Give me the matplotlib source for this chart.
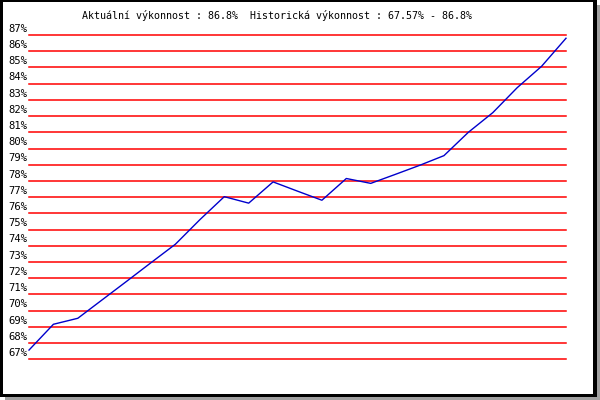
import matplotlib
matplotlib.use('Agg')
import matplotlib.pyplot as plt
from matplotlib.patches import Rectangle
from matplotlib.transforms import blended_transform_factory

# performance values (%)
vykon = [67.57, 69.16, 69.53, 70.67, 71.81, 72.96, 74.10, 75.61, 77.03, 76.63,
         77.94, 77.37, 76.81, 78.15, 77.85, 78.40, 78.96, 79.56, 81.0, 82.21,
         83.75, 85.07, 86.8]
ticks = list(range(67, 88))
tick_labels = [str(t) + "%" for t in ticks]
title = "Aktuální výkonnost : 86.8%  Historická výkonnost : 67.57% - 86.8%"

W, H = 600, 400
fig = plt.figure(figsize=(6, 4), dpi=100)
fig.patch.set_facecolor('white')

def px_rect(x0, y0, x1, y1, color):
    # rectangle in pixel coords, origin top-left
    fig.patches.append(Rectangle((x0 / W, 1 - y1 / H), (x1 - x0) / W, (y1 - y0) / H,
                                 transform=fig.transFigure, facecolor=color,
                                 edgecolor='none', zorder=0))

# shadow and frame
px_rect(597, 5, 600, 400, '#a0a0a0')
px_rect(5, 397, 600, 400, '#a0a0a0')
px_rect(0, 0, 597, 2, 'black')
px_rect(0, 0, 3, 397, 'black')
px_rect(593, 0, 597, 397, 'black')
px_rect(0, 394, 597, 397, 'black')

left, right = 29, 566
top, bottom = 35, 359.3
ax = fig.add_axes([left / W, 1 - bottom / H, (right - left) / W, (bottom - top) / H])
ax.set_xlim(0, len(vykon) - 1)
ax.set_ylim(ticks[0], ticks[-1])
ax.axis('off')

lab_trans = blended_transform_factory(fig.transFigure, ax.transData)
for t, lab in zip(ticks, tick_labels):
    ax.axhline(t, color='#ff0000', lw=1.1, zorder=1, clip_on=False)
    ax.text(8 / W, t + 0.08, lab, transform=lab_trans,
            ha='left', va='bottom', fontsize=7.6, family='DejaVu Sans Mono')

ax.plot(range(len(vykon)), vykon, color='#0000cc', lw=1, zorder=2, clip_on=False)

fig.text(277 / W, 1 - 19 / H, title, ha='center', va='baseline',
         fontsize=7.2, family='DejaVu Sans Mono')

fig.savefig('out.png', dpi=100)
